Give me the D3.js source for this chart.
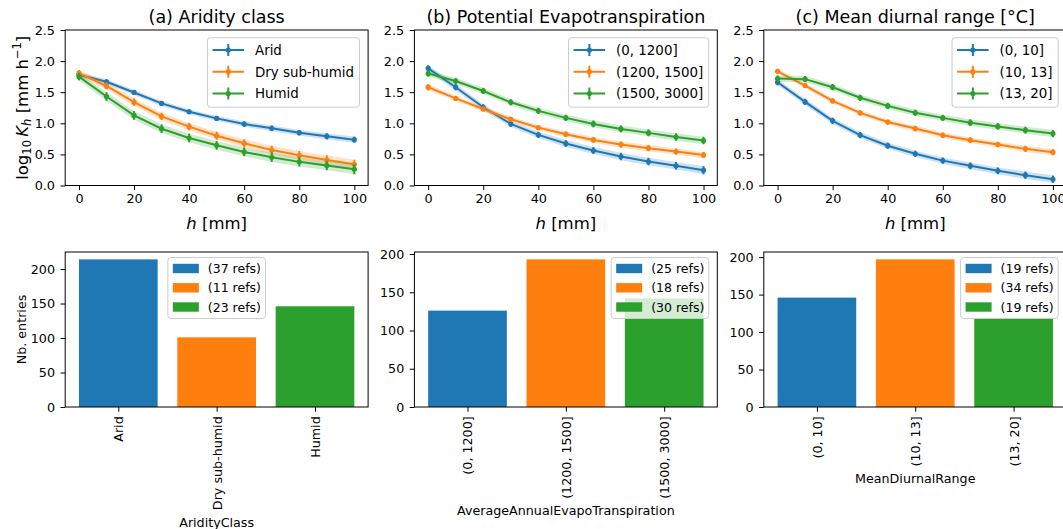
<!DOCTYPE html>
<html><head><meta charset="utf-8">
<script src="https://cdn.jsdelivr.net/npm/d3@7"></script>
<style>
body{margin:0;background:#fff}
svg{display:block}
text{font-family:"DejaVu Sans",sans-serif;fill:#000}
</style>
</head><body>
<svg id="chart" width="1063" height="529"></svg>
<script>
// ---------------- DATA ----------------
const hValues = [0, 10, 20, 30, 40, 50, 60, 70, 80, 90, 100];
const topXTicks = [0, 20, 40, 60, 80, 100];
const topYTicks = [0.0, 0.5, 1.0, 1.5, 2.0, 2.5];
const barYTicks = [0, 50, 100, 150, 200];

const titles = ["(a) Aridity class", "(b) Potential Evapotranspiration", "(c) Mean diurnal range [°C]"];
const barXLabels = ["AridityClass", "AverageAnnualEvapoTranspiration", "MeanDiurnalRange"];

const aridityClasses = ["Arid", "Dry sub-humid", "Humid"];
const aridityLogK = [
  [1.78, 1.667, 1.496, 1.32, 1.186, 1.079, 0.988, 0.919, 0.849, 0.79, 0.737],
  [1.806, 1.60, 1.34, 1.11, 0.946, 0.80, 0.678, 0.57, 0.486, 0.41, 0.34],
  [1.75, 1.43, 1.127, 0.913, 0.764, 0.646, 0.54, 0.454, 0.38, 0.32, 0.26]
];
const aridityErr = [
  [0.04, 0.04, 0.04, 0.04, 0.04, 0.04, 0.045, 0.045, 0.045, 0.05, 0.05],
  [0.05, 0.055, 0.06, 0.06, 0.06, 0.065, 0.065, 0.07, 0.07, 0.075, 0.075],
  [0.06, 0.07, 0.07, 0.07, 0.07, 0.07, 0.07, 0.075, 0.075, 0.075, 0.08]
];
const aridityCounts = [214, 101, 146];
const aridityRefs = [37, 11, 23];

const petClasses = ["(0, 1200]", "(1200, 1500]", "(1500, 3000]"];
const petLogK = [
  [1.884, 1.58, 1.258, 0.99, 0.814, 0.675, 0.562, 0.466, 0.385, 0.316, 0.246],
  [1.58, 1.40, 1.23, 1.065, 0.93, 0.824, 0.733, 0.658, 0.60, 0.546, 0.49],
  [1.80, 1.68, 1.52, 1.338, 1.20, 1.087, 0.99, 0.91, 0.846, 0.78, 0.723]
];
const petErr = [
  [0.05, 0.05, 0.05, 0.05, 0.05, 0.055, 0.055, 0.06, 0.06, 0.06, 0.065],
  [0.05, 0.04, 0.04, 0.04, 0.04, 0.045, 0.045, 0.05, 0.05, 0.05, 0.05],
  [0.05, 0.05, 0.05, 0.05, 0.05, 0.05, 0.055, 0.055, 0.055, 0.06, 0.06]
];
const petCounts = [126, 193, 142];
const petRefs = [25, 18, 30];

const mdrClasses = ["(0, 10]", "(10, 13]", "(13, 20]"];
const mdrLogK = [
  [1.66, 1.344, 1.04, 0.81, 0.64, 0.51, 0.40, 0.316, 0.236, 0.166, 0.10],
  [1.836, 1.606, 1.36, 1.167, 1.02, 0.915, 0.808, 0.728, 0.658, 0.589, 0.535],
  [1.72, 1.71, 1.58, 1.41, 1.28, 1.17, 1.087, 1.01, 0.95, 0.89, 0.835]
];
const mdrErr = [
  [0.05, 0.05, 0.05, 0.05, 0.05, 0.05, 0.05, 0.055, 0.055, 0.06, 0.06],
  [0.04, 0.04, 0.04, 0.04, 0.04, 0.045, 0.045, 0.045, 0.045, 0.05, 0.05],
  [0.05, 0.05, 0.05, 0.05, 0.05, 0.05, 0.05, 0.055, 0.055, 0.055, 0.06]
];
const mdrCounts = [146, 197, 118];
const mdrRefs = [19, 34, 19];

const colors = ["#1f77b4", "#ff7f0e", "#2ca02c"];

// ---------------- LAYOUT ----------------
const panels = [
  {cats: aridityClasses, vals: aridityLogK, errs: aridityErr, counts: aridityCounts, refs: aridityRefs, barLegendPos: "center"},
  {cats: petClasses, vals: petLogK, errs: petErr, counts: petCounts, refs: petRefs, barLegendPos: "right"},
  {cats: mdrClasses, vals: mdrLogK, errs: mdrErr, counts: mdrCounts, refs: mdrRefs, barLegendPos: "right"}
];
const axLeft = [65.2, 414.4, 763.8];
const axW = 302.9;
const topTop = 30, topBot = 185.5;
const botTop = 252, botBot = 407;

const F = {topTick: 12.8, topLegend: 13.4, title: 17.5, topLabel: 16.5, botTick: 12.7, botLabel: 12.7, botLegend: 12.5};

const svg = d3.select("#chart");

function styleAxis(g, fs) {
  g.attr("font-family", null).attr("font-size", null);
  g.selectAll("text").attr("font-size", fs).attr("fill", "#000");
  g.selectAll("line").attr("stroke", "#000").attr("stroke-width", 1);
  g.select(".domain").remove();
}

function frame(x0, y0, x1, y1) {
  svg.append("rect").attr("x", x0).attr("y", y0).attr("width", x1 - x0).attr("height", y1 - y0)
    .attr("fill", "none").attr("stroke", "#000").attr("stroke-width", 1);
}

panels.forEach((p, i) => {
  const L = axLeft[i], R = L + axW;
  // ---------- top line panel ----------
  const x = d3.scaleLinear().domain([-5, 105]).range([L, R]);
  const y = d3.scaleLinear().domain([0, 2.5]).range([topBot, topTop]);
  const g = svg.append("g");
  p.vals.forEach((vals, s) => {
    const pts = hValues.map((h, j) => ({h: h, v: vals[j], e: p.errs[s][j]}));
    g.append("path").datum(pts)
      .attr("d", d3.area().x(d => x(d.h)).y0(d => y(d.v - d.e)).y1(d => y(d.v + d.e)))
      .attr("fill", colors[s]).attr("fill-opacity", 0.22).attr("stroke", "none");
    g.append("path").datum(pts)
      .attr("d", d3.line().x(d => x(d.h)).y(d => y(d.v)))
      .attr("fill", "none").attr("stroke", colors[s]).attr("stroke-width", 2);
    g.selectAll(null).data(pts).enter().append("line")
      .attr("x1", d => x(d.h)).attr("x2", d => x(d.h))
      .attr("y1", d => y(d.v - d.e)).attr("y2", d => y(d.v + d.e))
      .attr("stroke", colors[s]).attr("stroke-width", 2);
    g.selectAll(null).data(pts).enter().append("circle")
      .attr("cx", d => x(d.h)).attr("cy", d => y(d.v)).attr("r", 2.6)
      .attr("fill", colors[s]);
  });
  const xa = svg.append("g").attr("transform", `translate(0,${topBot})`)
    .call(d3.axisBottom(x).tickValues(topXTicks).tickSize(4.7).tickSizeOuter(0).tickPadding(4).tickFormat(d3.format("d")));
  styleAxis(xa, F.topTick);
  const ya = svg.append("g").attr("transform", `translate(${L},0)`)
    .call(d3.axisLeft(y).tickValues(topYTicks).tickSize(4.7).tickSizeOuter(0).tickPadding(5.5).tickFormat(d3.format(".1f")));
  styleAxis(ya, F.topTick);
  frame(L, topTop, R, topBot);

  // title
  svg.append("text").attr("x", (L + R) / 2).attr("y", 23).attr("text-anchor", "middle")
    .attr("font-size", F.title).text(titles[i]);
  // x label  h [mm]
  const xl = svg.append("text").attr("x", (L + R) / 2).attr("y", 228.5).attr("text-anchor", "middle")
    .attr("font-size", F.topLabel);
  xl.append("tspan").attr("font-style", "italic").text("h");
  xl.append("tspan").text(" [mm]");

  // top legend
  const lg = svg.append("g");
  const texts = p.cats.map((c, s) => lg.append("text").attr("font-size", F.topLegend).text(c));
  const tw = d3.max(texts, t => t.node().getComputedTextLength());
  const fw = 47.5 + tw + 5.5, fh = 69.5;
  const fx = R - 8.6 - fw, fy = topTop + 7.7;
  lg.insert("rect", ":first-child").attr("x", fx).attr("y", fy).attr("width", fw).attr("height", fh)
    .attr("rx", 3).attr("fill", "#fff").attr("fill-opacity", 0.8).attr("stroke", "#cccccc").attr("stroke-width", 1);
  const rowOff = [12.3, 34, 55.8];
  texts.forEach((t, s) => {
    const ry = fy + rowOff[s];
    t.attr("x", fx + 47.5).attr("y", ry).attr("dy", "0.36em");
    const hx0 = fx + 5, hx1 = fx + 36.6, hc = (hx0 + hx1) / 2;
    lg.append("line").attr("x1", hx0).attr("x2", hx1).attr("y1", ry).attr("y2", ry)
      .attr("stroke", colors[s]).attr("stroke-width", 2);
    lg.append("line").attr("x1", hc).attr("x2", hc).attr("y1", ry - 6).attr("y2", ry + 6)
      .attr("stroke", colors[s]).attr("stroke-width", 2);
    lg.append("circle").attr("cx", hc).attr("cy", ry).attr("r", 2.6).attr("fill", colors[s]);
  });

  // ---------- bottom bar panel ----------
  const bx = d3.scaleLinear().domain([-0.54, 2.54]).range([L, R]);
  const by = d3.scaleLinear().domain([0, d3.max(p.counts) * 1.05]).range([botBot, botTop]);
  const barW = bx(0.4) - bx(-0.4);
  svg.append("g").selectAll("rect").data(p.counts).enter().append("rect")
    .attr("x", (d, k) => bx(k) - barW / 2).attr("width", barW)
    .attr("y", d => by(d)).attr("height", d => botBot - by(d))
    .attr("fill", (d, k) => colors[k]);
  const bxa = svg.append("g").attr("transform", `translate(0,${botBot})`)
    .call(d3.axisBottom(bx).tickValues([0, 1, 2]).tickSize(4.7).tickSizeOuter(0).tickFormat(k => p.cats[k]));
  styleAxis(bxa, F.botTick);
  bxa.selectAll("text").attr("transform", "rotate(-90)").attr("text-anchor", "end")
    .attr("x", -9.3).attr("y", 0).attr("dy", "0.35em");
  const bya = svg.append("g").attr("transform", `translate(${L},0)`)
    .call(d3.axisLeft(by).tickValues(barYTicks).tickSize(4.7).tickSizeOuter(0).tickPadding(5.5));
  styleAxis(bya, F.botTick);
  frame(L, botTop, R, botBot);

  const bb = bxa.node().getBBox();
  svg.append("text").attr("x", (L + R) / 2).attr("y", botBot + bb.y + bb.height + 16.5)
    .attr("text-anchor", "middle").attr("font-size", F.botLabel).text(barXLabels[i]);

  // bar legend
  const blg = svg.append("g");
  const btexts = p.refs.map(r => blg.append("text").attr("font-size", F.botLegend).text(`(${r} refs)`));
  const btw = d3.max(btexts, t => t.node().getComputedTextLength());
  const bfw = 40 + btw + 4.5, bfh = 61;
  const bfx = p.barLegendPos === "center" ? (L + R) / 2 - bfw / 2 : R - 8.5 - bfw;
  const bfy = botTop + 5.5;
  blg.insert("rect", ":first-child").attr("x", bfx).attr("y", bfy).attr("width", bfw).attr("height", bfh)
    .attr("rx", 3).attr("fill", "#fff").attr("fill-opacity", 0.8).attr("stroke", "#cccccc").attr("stroke-width", 1);
  const brow = [11, 30.3, 49.5];
  btexts.forEach((t, s) => {
    const ry = bfy + brow[s];
    t.attr("x", bfx + 40).attr("y", ry).attr("dy", "0.36em");
    blg.append("rect").attr("x", bfx + 5).attr("y", ry - 4.7).attr("width", 26).attr("height", 9.4)
      .attr("fill", colors[s]);
  });
});

// y labels
const yl = svg.append("text").attr("transform", `translate(27.5,${(topTop + topBot) / 2}) rotate(-90)`)
  .attr("text-anchor", "middle").attr("font-size", F.topLabel);
yl.append("tspan").text("log");
yl.append("tspan").attr("font-size", 11.5).attr("dy", 3.8).text("10");
yl.append("tspan").attr("dy", -3.8).text("\u2009");
yl.append("tspan").attr("font-style", "italic").text("K");
yl.append("tspan").attr("font-style", "italic").attr("font-size", 11.5).attr("dy", 3.8).text("h");
yl.append("tspan").attr("dy", -3.8).text(" [mm h");
yl.append("tspan").attr("font-size", 11.5).attr("dy", -6.6).text("\u22121");
yl.append("tspan").attr("dy", 6.6).text("]");

svg.append("text").attr("transform", `translate(26,${(botTop + botBot) / 2}) rotate(-90)`)
  .attr("text-anchor", "middle").attr("font-size", F.botLabel).text("Nb. entries");
</script>
</body></html>
